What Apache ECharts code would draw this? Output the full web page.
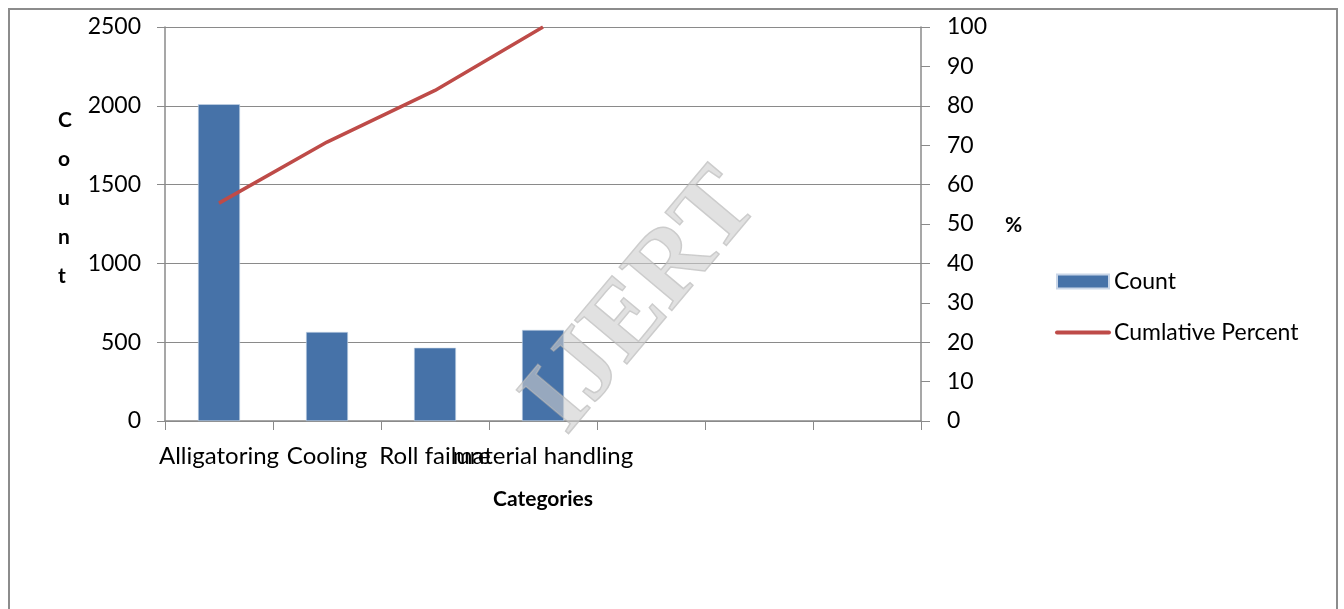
<!DOCTYPE html>
<html><head><meta charset="utf-8">
<script src="https://cdn.jsdelivr.net/npm/echarts@6/dist/echarts.min.js"></script>
<style>html,body{margin:0;padding:0;background:#fff}#c{width:1344px;height:609px}</style>
</head><body><div id="c"></div>
<script>
const categories = ['Alligatoring', 'Cooling', 'Roll failure', 'material handling', '', '', ''];
const countValues = [2010, 565, 465, 578, null, null, null];
const cumulativePercent = [55.3, 70.8, 83.9, 100, null, null, null];
const countTicks = [0, 500, 1000, 1500, 2000, 2500];
const percentTicks = [0, 10, 20, 30, 40, 50, 60, 70, 80, 90, 100];

const FONT = 'Lato, "Open Sans", sans-serif';
const GRAY = '#8a8a8a';
const chart = echarts.init(document.getElementById('c'), null, {renderer: 'canvas'});
chart.setOption({
  animation: false,
  textStyle: {fontFamily: FONT, color: '#000'},
  grid: {left: 165, right: 423, top: 27, bottom: 188, containLabel: false},
  legend: {
    orient: 'vertical', left: 1050, top: 265, itemWidth: 52, itemHeight: 14, itemGap: 28,
    textStyle: {fontSize: 23, fontFamily: FONT, color: '#000', padding: [0, 0, 0, 0]},
    data: [
      {name: 'Count', icon: 'rect'},
      {name: 'Cumlative Percent', itemStyle: {opacity: 0}, lineStyle: {width: 4, cap: 'round'}}
    ]
  },
  xAxis: {
    type: 'category', data: categories, boundaryGap: true,
    axisLine: {lineStyle: {color: GRAY, width: 1.5}},
    axisTick: {show: true, alignWithLabel: false, length: 9, lineStyle: {color: GRAY}},
    axisLabel: {interval: 0, fontSize: 24, color: '#000', margin: 23, hideOverlap: false},
    name: 'Categories', nameLocation: 'middle', nameGap: 68,
    nameTextStyle: {fontSize: 21, fontWeight: 'bold', color: '#000'}
  },
  yAxis: [{
    type: 'value', min: 0, max: 2500, interval: 500, position: 'left',
    axisLine: {show: true, lineStyle: {color: GRAY, width: 1.5}},
    axisTick: {show: true, length: 8, lineStyle: {color: GRAY}},
    splitLine: {show: true, lineStyle: {color: GRAY, width: 1.2}},
    axisLabel: {fontSize: 23, color: '#000', margin: 24,
      formatter: v => countTicks.includes(v) ? String(v) : ''}
  }, {
    type: 'value', min: 0, max: 100, interval: 10, position: 'right',
    axisLine: {show: true, lineStyle: {color: GRAY, width: 1.5}},
    axisTick: {show: true, inside: false, length: 9, lineStyle: {color: GRAY}},
    splitLine: {show: false},
    axisLabel: {fontSize: 23, color: '#000', margin: 26,
      formatter: v => percentTicks.includes(v) ? String(v) : ''}
  }],
  series: [{
    name: 'Count', type: 'bar', yAxisIndex: 0, data: countValues, barWidth: 42,
    itemStyle: {color: '#4672A8', borderColor: '#c9d6e8', borderWidth: 0.6}, z: 2
  }, {
    name: 'Cumlative Percent', type: 'line', yAxisIndex: 1, data: cumulativePercent,
    showSymbol: false, symbol: 'none', connectNulls: false,
    lineStyle: {color: '#BE4B48', width: 3.5}, itemStyle: {color: '#BE4B48'}, z: 3
  }],
  graphic: [
    {type: 'rect', shape: {x: 9, y: 9, width: 1328, height: 620}, silent: true,
     style: {fill: 'none', stroke: '#8c8c8c', lineWidth: 2}, z: -1},
    {type: 'text', left: 58, top: 101, silent: true,
     style: {text: 'C\no\nu\nn\nt', font: 'bold 21px ' + FONT, fill: '#000', lineHeight: 39, align: 'center'}},
    {type: 'text', left: 1005, top: 215, silent: true,
     style: {text: '%', font: 'bold 21px ' + FONT, fill: '#000'}},
    {type: 'text', x: 643, y: 303, rotation: Math.PI * 50 / 180, silent: true, z: 10,
     style: {text: 'IJERT', font: 'bold 104px "Liberation Serif", "DejaVu Serif", serif', fill: 'rgba(205,205,205,0.6)',
       stroke: 'rgba(170,170,170,0.6)', lineWidth: 1.5, align: 'center', verticalAlign: 'middle'}}
  ]
});
</script></body></html>
